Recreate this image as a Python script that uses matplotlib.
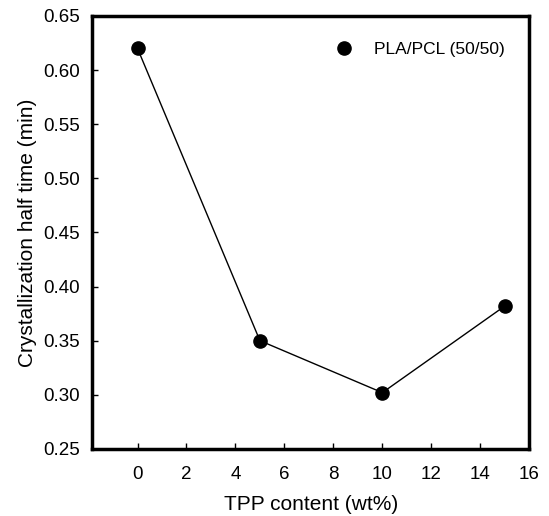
import numpy as np
import matplotlib
matplotlib.use("Agg")
import matplotlib.pyplot as plt

plt.rcParams['font.family'] = ['Liberation Sans', 'DejaVu Sans']

tpp = [0, 5, 10, 15]
t_half = [0.620, 0.350, 0.302, 0.382]
series_name = "PLA/PCL (50/50)"

fig = plt.figure(figsize=(5.49, 5.16), dpi=100)
ax = fig.add_axes([0.168, 0.130, 0.796, 0.839])

ax.plot(tpp, t_half, color="black", lw=1.0, marker="o", ms=9.5,
        mfc="black", mec="black", label=series_name)

ax.set_xlim(-1.85, 16)
ax.set_ylim(0.25, 0.65)
ax.set_xticks(np.arange(0, 17, 2))
ax.set_yticks(np.arange(0.25, 0.651, 0.05))
ax.yaxis.set_major_formatter(matplotlib.ticker.FormatStrFormatter("%.2f"))
ax.tick_params(direction="in", length=4, width=1, labelsize=13.5)
ax.tick_params(axis="x", pad=12)
ax.tick_params(axis="y", pad=9)
for s in ax.spines.values():
    s.set_linewidth(2.5)

ax.set_xlabel("TPP content (wt%)", fontsize=15, labelpad=9)
ax.set_ylabel("Crystallization half time (min)", fontsize=15, labelpad=4)

leg = ax.legend(loc="upper right", frameon=False, fontsize=12.5,
                handlelength=1.0, handletextpad=1.2, borderaxespad=0.2,
                bbox_to_anchor=(0.967, 0.965))
for h in leg.legend_handles:
    h.set_linestyle("none")

fig.savefig("out.png", dpi=100)
